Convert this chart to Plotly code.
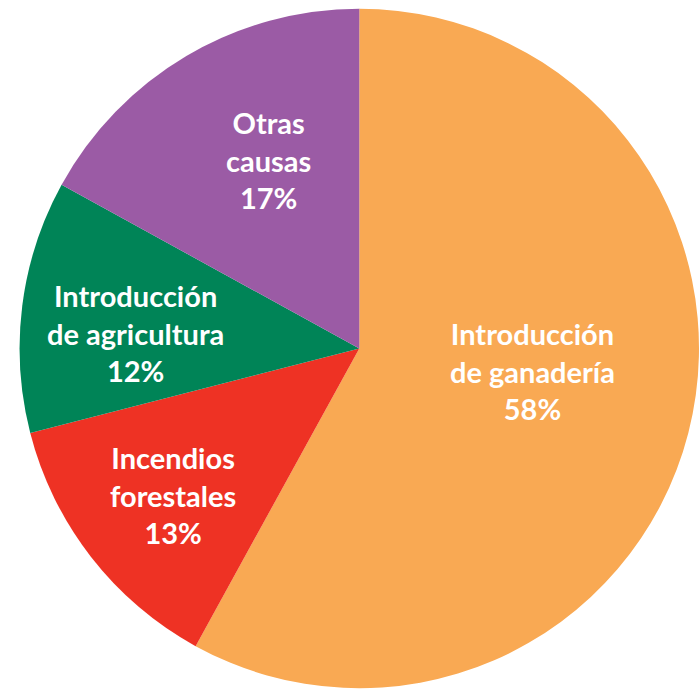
import plotly.graph_objects as go

labels = ["Introducción de ganadería", "Incendios forestales", "Introducción de agricultura", "Otras causas"]
label_lines = ["Introducción<br>de ganadería", "Incendios<br>forestales", "Introducción<br>de agricultura", "Otras<br>causas"]
values = [58, 13, 12, 17]
colors = ["#F9A953", "#EE3224", "#008457", "#9B5BA5"]

W, H = 699, 690
# label centres in pixels (layout positions)
label_pos = [(532, 371), (173, 495), (135, 333), (268, 160)]

fig = go.Figure(go.Pie(
    labels=labels,
    values=values,
    sort=False,
    direction="clockwise",
    rotation=0,
    marker=dict(colors=colors, line=dict(width=0)),
    textinfo="none",
    hoverinfo="label+percent",
    showlegend=False,
    domain=dict(x=[0.028, 1.0], y=[0.0, 0.99]),
))

total = sum(values)
for (px, py), txt, v in zip(label_pos, label_lines, values):
    fig.add_annotation(
        x=px / W, y=1 - py / H, xref="paper", yref="paper",
        text=f"{txt}<br>{round(v / total * 100)}%",
        showarrow=False, align="center",
        font=dict(family="Lato", size=29, color="white", weight="bold"),
        xanchor="center", yanchor="middle",
    )

fig.update_layout(
    width=W, height=H,
    margin=dict(l=0, r=0, t=0, b=0),
    paper_bgcolor="white", plot_bgcolor="white",
)
fig.write_html("out.html")
